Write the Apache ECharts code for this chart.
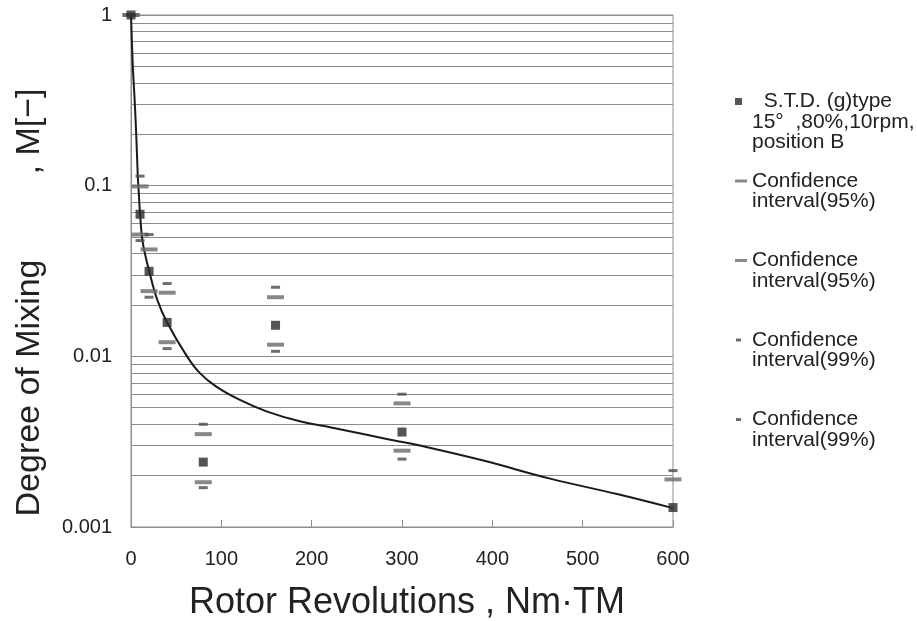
<!DOCTYPE html>
<html>
<head>
<meta charset="utf-8">
<script src="https://cdn.jsdelivr.net/npm/echarts@6/dist/echarts.min.js"></script>
<style>
	html, body { margin: 0; padding: 0; background: #fff; }
	#chart { width: 917px; height: 621px; }
</style>
</head>
<body>
<div id="chart"></div>
<script>
	/** **************** 数据 **************** */
	// 转子转数 (Nm·TM)
	var revolutions = [0, 10, 20, 40, 80, 160, 300, 600];
	// 混合度 M 平均值
	var mixingMean = [1, 0.068, 0.0315, 0.0158, 0.0024, 0.0152, 0.0036, 0.0013];
	// 置信区间 95% / 99%（上下限）
	var ci95Upper = [1, 0.099, 0.0423, 0.0236, 0.0035, 0.0222, 0.0053, 0.0019];
	var ci95Lower = [1, 0.0517, 0.0241, 0.0121, 0.00183, 0.0117, 0.0028, null];
	var ci99Upper = [1, 0.1137, 0.0517, 0.0267, 0.0040, 0.0254, 0.0060, 0.00214];
	var ci99Lower = [1, 0.0477, 0.0222, 0.0111, 0.0017, 0.0107, 0.0025, null];
	// 拟合曲线（读图取点）
	var fitX = [0, 2, 4, 6, 7.5, 8.6, 10, 13, 20, 29, 40, 62, 76, 94, 120, 150, 187, 223, 261, 297, 316, 390, 464, 538, 600];
	var fitM = [1, 0.50, 0.32, 0.187, 0.114, 0.091, 0.0687, 0.0465, 0.0318, 0.0215, 0.0158, 0.0100, 0.0080, 0.00667, 0.00557, 0.00476, 0.00416, 0.00382, 0.00347, 0.00317, 0.00303, 0.00245, 0.00192, 0.00156, 0.00129];
	// 坐标轴刻度
	var xTicks = [0, 100, 200, 300, 400, 500, 600];
	var yTickLabels = ['0.001', '0.01', '0.1', '1'];
	var decades = [0.001, 0.01, 0.1];
	var minorMultipliers = [2, 3, 4, 5, 6, 7, 8, 9];
	// 图例名称（前置空行使图标对齐第一行）
	var seriesNames = [
		'\n\n  S.T.D. (g)type\n15°  ,80%,10rpm,\nposition B',
		'\n\nConfidence\ninterval(95%)\n',
		'\n\nConfidence\ninterval(95%)\n ',
		'\n\nConfidence\ninterval(99%)\n',
		'\n\nConfidence\ninterval(99%)\n '
	];

	var FONT = 'Liberation Sans';
	var GRID_COLOR = '#8c8c8c';

	function pairs(xs, ys) {
		var out = [];
		for (var i = 0; i < xs.length; i++) {
			if (ys[i] != null) out.push([xs[i], ys[i]]);
		}
		return out;
	}

	// 对数坐标次网格线 2..9
	var minorLines = [];
	decades.forEach(function(d) {
		minorMultipliers.forEach(function(m) {
			minorLines.push({ yAxis: +(d * m).toPrecision(3) });
		});
	});

	function ciSeries(name, values, size, color) {
		return {
			name: name, type: 'scatter', z: 4,
			symbol: 'rect', symbolSize: size,
			itemStyle: { color: color },
			data: pairs(revolutions, values)
		};
	}

	var LH = 20.5;
	var DASH_LONG = 'path://M0,0M12,7M0,2h12v3h-12z';
	var DASH_SHORT = 'path://M0,0M12,7M1,2h5v3h-5z';

	var option = {
		animation: false,
		backgroundColor: '#fff',
		textStyle: { fontFamily: FONT },
		grid: {
			left: 131, right: 244, top: 15, bottom: 94,
			outerBoundsMode: 'none',
			show: true, borderColor: GRID_COLOR, borderWidth: 1
		},
		legend: {
			orient: 'vertical', left: 735, top: 50, padding: 0,
			itemWidth: 12, itemHeight: 7, itemGap: -23.5,
			textStyle: { fontSize: 21, lineHeight: LH, color: '#222', fontFamily: FONT },
			data: [
				{ name: seriesNames[0], icon: 'path://M0,0M12,7M0,0h7v7h-7z' },
				{ name: seriesNames[1], icon: DASH_LONG },
				{ name: seriesNames[2], icon: DASH_LONG },
				{ name: seriesNames[3], icon: DASH_SHORT },
				{ name: seriesNames[4], icon: DASH_SHORT }
			]
		},
		xAxis: {
			type: 'value', min: xTicks[0], max: xTicks[xTicks.length - 1], interval: 100,
			name: 'Rotor Revolutions , Nm·TM',
			nameLocation: 'middle', nameGap: 58,
			nameTextStyle: { fontSize: 36, color: '#222', fontFamily: FONT, padding: [0, 0, 0, 10] },
			axisLine: { lineStyle: { color: GRID_COLOR, width: 1 } },
			axisTick: { inside: true, length: 7, lineStyle: { color: GRID_COLOR } },
			axisLabel: { fontSize: 20, color: '#222', margin: 22 },
			splitLine: { show: false }
		},
		yAxis: {
			type: 'log', logBase: 10, min: 0.001, max: 1,
			name: 'Degree of Mixing         , M[−]',
			nameLocation: 'middle', nameGap: 84,
			nameTextStyle: { fontSize: 34, color: '#222', fontFamily: FONT, padding: [0, 63, 0, 0] },
			axisLine: { show: true, lineStyle: { color: GRID_COLOR, width: 1 } },
			axisTick: { show: false },
			axisLabel: {
				fontSize: 20, color: '#222', margin: 19, padding: [5, 0, 0, 0],
				formatter: function(v) {
					return yTickLabels[Math.round(Math.log10(v)) + 3];
				}
			},
			splitLine: { show: true, lineStyle: { color: GRID_COLOR, width: 1 } }
		},
		series: [{
			name: 'fit', type: 'line', z: 3,
			showSymbol: false, smooth: 0.4,
			lineStyle: { color: '#1a1a1a', width: 2 },
			data: pairs(fitX, fitM),
			markLine: {
				silent: true, symbol: 'none', z: 1, precision: 5,
				label: { show: false },
				lineStyle: { color: GRID_COLOR, width: 1, type: 'solid' },
				data: minorLines
			}
		}, {
			name: seriesNames[0], type: 'scatter', z: 5,
			symbol: 'rect', symbolSize: 9,
			itemStyle: { color: '#2a2a2a' },
			data: pairs(revolutions, mixingMean)
		},
			ciSeries(seriesNames[1], ci95Upper, [17, 4], '#6a6a6a'),
			ciSeries(seriesNames[2], ci95Lower, [17, 4], '#6a6a6a'),
			ciSeries(seriesNames[3], ci99Upper, [9, 3], '#4a4a4a'),
			ciSeries(seriesNames[4], ci99Lower, [9, 3], '#4a4a4a')
		]
	};

	var myChart = echarts.init(document.getElementById('chart'));
	myChart.setOption(option);
</script>
</body>
</html>
